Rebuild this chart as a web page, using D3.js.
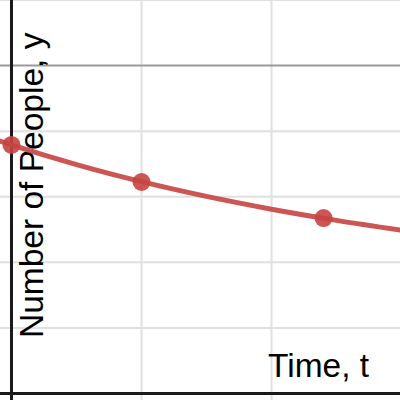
<!DOCTYPE html>
<html>
<head>
<meta charset="utf-8">
<script src="https://cdn.jsdelivr.net/npm/d3@7"></script>
<style>
  html, body { margin: 0; padding: 0; background: #fff; }
  svg { display: block; }
  text { font-family: "Liberation Sans", Arial, Helvetica, sans-serif; fill: #000; }
</style>
</head>
<body>
<div id="chart"></div>
<script>
// observed points (time, people)
const pointT = [0, 5, 12];
const pointY = [75.8, 64.5, 53.5];

// fitted curve at these times
const curveT = [-0.5, 0, 2.5, 5, 7.5, 10, 12.5, 15];
const curveY = [77.1, 75.8, 69.8, 64.6, 60.1, 56.2, 52.8, 49.8];

const minorX = [5, 10, 15];
const minorY = [20, 40, 60, 80, 120];
const majorY = [100];

const xLabel = "Time, t";
const yLabel = "Number of People, y";

const width = 400, height = 400;
const red = "#c74440";

const svg = d3.select("#chart").append("svg")
  .attr("width", width)
  .attr("height", height);

const x = d3.scaleLinear().domain([-0.442, 14.94]).range([0, width]);
const y = d3.scaleLinear().domain([-1.98, 120]).range([height, 0]);

// grid
const grid = svg.append("g");
grid.selectAll(".vx")
  .data(minorX)
  .join("line")
  .attr("x1", d => x(d)).attr("x2", d => x(d))
  .attr("y1", 0).attr("y2", height)
  .attr("stroke", "#e0e0e0").attr("stroke-width", 2);
grid.selectAll(".hy")
  .data(minorY)
  .join("line")
  .attr("y1", d => y(d)).attr("y2", d => y(d))
  .attr("x1", 0).attr("x2", width)
  .attr("stroke", "#e0e0e0").attr("stroke-width", 2);
grid.selectAll(".my")
  .data(majorY)
  .join("line")
  .attr("y1", d => y(d)).attr("y2", d => y(d))
  .attr("x1", 0).attr("x2", width)
  .attr("stroke", "#9a9a9a").attr("stroke-width", 2);

// axes
svg.append("line")
  .attr("x1", x(0)).attr("x2", x(0))
  .attr("y1", 0).attr("y2", height)
  .attr("stroke", "#1a1a1a").attr("stroke-width", 3);
svg.append("line")
  .attr("x1", 0).attr("x2", width)
  .attr("y1", y(0)).attr("y2", y(0))
  .attr("stroke", "#1a1a1a").attr("stroke-width", 3);

// labels
svg.append("text")
  .attr("x", 268).attr("y", 377)
  .attr("font-size", 33.5)
  .text(xLabel);
svg.append("text")
  .attr("transform", "translate(43,338) rotate(-90)")
  .attr("font-size", 33.5)
  .text(yLabel);

// curve
const line = d3.line()
  .x((d, i) => x(curveT[i]))
  .y(d => y(d))
  .curve(d3.curveMonotoneX);

svg.append("path")
  .datum(curveY)
  .attr("d", line)
  .attr("fill", "none")
  .attr("stroke", red)
  .attr("stroke-width", 5)
  .attr("stroke-opacity", 0.9);

// points
svg.selectAll(".pt")
  .data(pointY)
  .join("circle")
  .attr("cx", (d, i) => x(pointT[i]))
  .attr("cy", d => y(d))
  .attr("r", 9)
  .attr("fill", red)
  .attr("fill-opacity", 0.9);
</script>
</body>
</html>
